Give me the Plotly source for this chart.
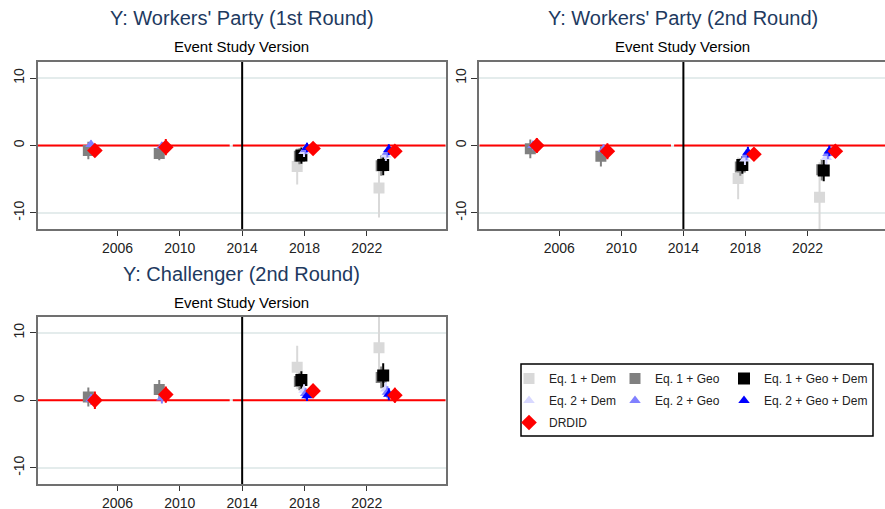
import plotly.graph_objects as go

# ---------------- data ----------------
series_names = ["Eq. 1 + Dem", "Eq. 1 + Geo", "Eq. 1 + Geo + Dem",
                "Eq. 2 + Dem", "Eq. 2 + Geo", "Eq. 2 + Geo + Dem", "DRDID"]
# estimation periods (pre 1, pre 2, post 1, post 2) on the year axis
event_x = [2004.35, 2008.9, 2018.0, 2023.25]
xtick_years = [2006, 2010, 2014, 2018, 2022]
ytick_vals = [-10, 0, 10]
treatment_year = 2014
ref_gap = [2013.2, 2013.4]

panel_titles = ["Y: Workers' Party (1st Round)", "Y: Workers' Party (2nd Round)",
                "Y: Challenger (2nd Round)"]
subtitle = "Event Study Version"

# Panel 1: Workers' Party (1st Round) -- coefficient, CI half-width
p1_eq1_dem = [None, None, -3.1, -6.3];   p1_eq1_dem_ci = [None, None, 2.7, 4.4]
p1_eq1_geo = [-0.75, -1.2, -1.6, -3.0];  p1_eq1_geo_ci = [1.3, 1.0, 1.2, 1.5]
p1_eq1_gd = [None, None, -1.5, -2.9];    p1_eq1_gd_ci = [None, None, 1.2, 1.5]
p1_eq2_dem = [None, None, -0.9, -1.4];   p1_eq2_dem_ci = [None, None, 0.8, 0.9]
p1_eq2_geo = [0.15, -0.1, -0.6, -1.0];   p1_eq2_geo_ci = [0.6, 0.6, 0.7, 0.8]
p1_eq2_gd = [None, None, -0.3, -0.6];    p1_eq2_gd_ci = [None, None, 0.7, 0.8]
p1_drdid = [-0.75, -0.25, -0.45, -0.85]; p1_drdid_ci = [0.8, 1.2, 0.8, 0.9]

# Panel 2: Workers' Party (2nd Round)
p2_eq1_dem = [None, None, -4.9, -7.7];   p2_eq1_dem_ci = [None, None, 3.1, 5.2]
p2_eq1_geo = [-0.5, -1.6, -3.2, -3.6];   p2_eq1_geo_ci = [1.4, 1.5, 1.3, 1.6]
p2_eq1_gd = [None, None, -2.9, -3.7];    p2_eq1_gd_ci = [None, None, 1.3, 1.6]
p2_eq2_dem = [None, None, -2.0, -1.8];   p2_eq2_dem_ci = [None, None, 0.9, 1.0]
p2_eq2_geo = [0.0, -0.6, -1.4, -1.2];    p2_eq2_geo_ci = [0.7, 0.8, 0.8, 0.8]
p2_eq2_gd = [None, None, -1.0, -0.8];    p2_eq2_gd_ci = [None, None, 0.8, 0.8]
p2_drdid = [0.0, -0.85, -1.3, -0.85];    p2_drdid_ci = [1.1, 1.2, 0.9, 1.0]

# Panel 3: Challenger (2nd Round)
p3_eq1_dem = [None, None, 4.9, 7.8];     p3_eq1_dem_ci = [None, None, 3.2, 5.2]
p3_eq1_geo = [0.5, 1.6, 2.8, 3.4];       p3_eq1_geo_ci = [1.4, 1.4, 1.3, 1.6]
p3_eq1_gd = [None, None, 3.0, 3.7];      p3_eq1_gd_ci = [None, None, 1.3, 1.8]
p3_eq2_dem = [None, None, 1.5, 1.7];     p3_eq2_dem_ci = [None, None, 0.9, 1.0]
p3_eq2_geo = [0.15, 0.35, 1.0, 1.2];     p3_eq2_geo_ci = [0.8, 0.8, 0.8, 0.9]
p3_eq2_gd = [None, None, 0.7, 0.9];      p3_eq2_gd_ci = [None, None, 0.8, 0.9]
p3_drdid = [0.0, 0.85, 1.4, 0.75];       p3_drdid_ci = [1.3, 1.2, 1.0, 1.1]

panels = [
    [(p1_eq1_dem, p1_eq1_dem_ci), (p1_eq1_geo, p1_eq1_geo_ci), (p1_eq1_gd, p1_eq1_gd_ci),
     (p1_eq2_dem, p1_eq2_dem_ci), (p1_eq2_geo, p1_eq2_geo_ci), (p1_eq2_gd, p1_eq2_gd_ci),
     (p1_drdid, p1_drdid_ci)],
    [(p2_eq1_dem, p2_eq1_dem_ci), (p2_eq1_geo, p2_eq1_geo_ci), (p2_eq1_gd, p2_eq1_gd_ci),
     (p2_eq2_dem, p2_eq2_dem_ci), (p2_eq2_geo, p2_eq2_geo_ci), (p2_eq2_gd, p2_eq2_gd_ci),
     (p2_drdid, p2_drdid_ci)],
    [(p3_eq1_dem, p3_eq1_dem_ci), (p3_eq1_geo, p3_eq1_geo_ci), (p3_eq1_gd, p3_eq1_gd_ci),
     (p3_eq2_dem, p3_eq2_dem_ci), (p3_eq2_geo, p3_eq2_geo_ci), (p3_eq2_gd, p3_eq2_gd_ci),
     (p3_drdid, p3_drdid_ci)],
]

# ---------------- styles ----------------
colors = ["#d9d9d9", "#808080", "#000000", "#d8d8ff", "#8080ff", "#0000ff", "#ff0000"]
symbols = ["square", "square", "square", "triangle-up", "triangle-up", "triangle-up", "diamond"]
sizes = [11, 11, 12, 10, 10, 10, 12]
dodge_pre = [-0.45, -0.22, -0.2, -0.05, -0.05, -0.05, 0.2]
dodge_post = [-0.47, -0.33, -0.2, -0.03, 0.07, 0.16, 0.55]
legend_of = ["legend", "legend2", "legend3", "legend", "legend2", "legend3", "legend"]

W, H = 885, 509
def px_x(p): return p / W
def px_y(p): return 1 - p / H

x_doms = [[px_x(38), px_x(445.7)], [px_x(479.3), 1.0], [px_x(38), px_x(445.7)]]
y_doms = [[px_y(229), px_y(62)], [px_y(229), px_y(62)], [px_y(484), px_y(316.7)]]
x_ranges = [[2000.9, 2027.06], [2000.84, 2027.0], [2000.9, 2027.06]]
y_range = [-12.4, 12.4]

FONT = "Liberation Sans, Arial, sans-serif"
fig = go.Figure()

for pi, pdata in enumerate(panels):
    xa = "x" if pi == 0 else f"x{pi+1}"
    ya = "y" if pi == 0 else f"y{pi+1}"
    # reference line at zero (pre and post segments) and treatment line
    fig.add_trace(go.Scatter(x=[x_ranges[pi][0], ref_gap[0], None, ref_gap[1], x_ranges[pi][1]],
                             y=[0, 0, None, 0, 0], mode="lines", xaxis=xa, yaxis=ya,
                             line=dict(color="#ff0000", width=2), showlegend=False,
                             hoverinfo="skip", connectgaps=False))
    fig.add_trace(go.Scatter(x=[treatment_year, treatment_year], y=y_range, mode="lines",
                             xaxis=xa, yaxis=ya, line=dict(color="#000000", width=2),
                             showlegend=False, hoverinfo="skip"))
    for si, (vals, cis) in enumerate(pdata):
        xs, ys, es = [], [], []
        for k, (v, c) in enumerate(zip(vals, cis)):
            if v is None:
                continue
            off = dodge_pre[si] if k < 2 else dodge_post[si]
            xs.append(event_x[k] + off)
            ys.append(v)
            es.append(c)
        fig.add_trace(go.Scatter(
            x=xs, y=ys, mode="markers", xaxis=xa, yaxis=ya,
            name=series_names[si], legendgroup=series_names[si],
            legend=legend_of[si], showlegend=(pi == 0),
            marker=dict(symbol=symbols[si], size=sizes[si], color=colors[si],
                        line=dict(width=0)),
            error_y=dict(type="data", array=es, visible=True, color=colors[si],
                         thickness=2, width=0),
        ))

shapes = []
annotations = []
for pi in range(3):
    cx = (x_doms[pi][0] + x_doms[pi][1]) / 2
    if pi == 1:
        cx = px_x(682.5)
    ty = px_y(18) if pi < 2 else px_y(273.5)
    sy = px_y(46) if pi < 2 else px_y(302.5)
    annotations.append(dict(text=panel_titles[pi], xref="paper", yref="paper", x=cx, y=ty,
                            xanchor="center", yanchor="middle", showarrow=False,
                            font=dict(family=FONT, size=20, color="#1e3a5f")))
    annotations.append(dict(text=subtitle, xref="paper", yref="paper", x=cx, y=sy,
                            xanchor="center", yanchor="middle", showarrow=False,
                            font=dict(family=FONT, size=15, color="#000000")))

# legend frame
shapes.append(dict(type="rect", xref="paper", yref="paper", x0=px_x(521), x1=px_x(873),
                   y0=px_y(436), y1=px_y(364), line=dict(color="#000000", width=1.5),
                   fillcolor="rgba(0,0,0,0)"))

layout = dict(
    width=W, height=H, margin=dict(l=0, r=0, t=0, b=0),
    paper_bgcolor="white", plot_bgcolor="white",
    font=dict(family=FONT, size=14, color="#222222"),
    shapes=shapes, annotations=annotations, hovermode=False,
)
for pi in range(3):
    xk = "xaxis" if pi == 0 else f"xaxis{pi+1}"
    yk = "yaxis" if pi == 0 else f"yaxis{pi+1}"
    ya = "y" if pi == 0 else f"y{pi+1}"
    xa = "x" if pi == 0 else f"x{pi+1}"
    layout[xk] = dict(domain=x_doms[pi], range=x_ranges[pi], anchor=ya,
                      tickvals=xtick_years, ticktext=[str(v) for v in xtick_years],
                      ticks="outside", ticklen=5, tickcolor="#333333", tickwidth=1,
                      showgrid=False, zeroline=False, showline=True, linecolor="#707070",
                      linewidth=2, mirror=True, automargin=False,
                      tickfont=dict(family=FONT, size=14, color="#222222"))
    layout[yk] = dict(domain=y_doms[pi], range=y_range, anchor=xa,
                      tickvals=ytick_vals, ticktext=[str(v) for v in ytick_vals],
                      tickangle=-90, ticks="outside", ticklen=6, tickcolor="#333333",
                      tickwidth=1, showgrid=True, gridcolor="#e4ecec", gridwidth=2,
                      zeroline=False, showline=True, linecolor="#707070", linewidth=2,
                      mirror=(pi != 1), automargin=False,
                      tickfont=dict(family=FONT, size=14, color="#222222"))

leg_common = dict(orientation="v", bgcolor="rgba(0,0,0,0)", borderwidth=0,
                  font=dict(family=FONT, size=12, color="#222222"),
                  tracegroupgap=3, xanchor="left", yanchor="top", y=px_y(364))
layout["legend"] = dict(leg_common, x=px_x(509))
layout["legend2"] = dict(leg_common, x=px_x(615))
layout["legend3"] = dict(leg_common, x=px_x(724))

fig.update_layout(**layout)
fig.write_html("out.html",
               config={"displayModeBar": False, "staticPlot": True},
               post_script="document.body.style.margin='0';"
                           "document.body.style.padding='0';"
                           "document.body.style.overflow='hidden';")
